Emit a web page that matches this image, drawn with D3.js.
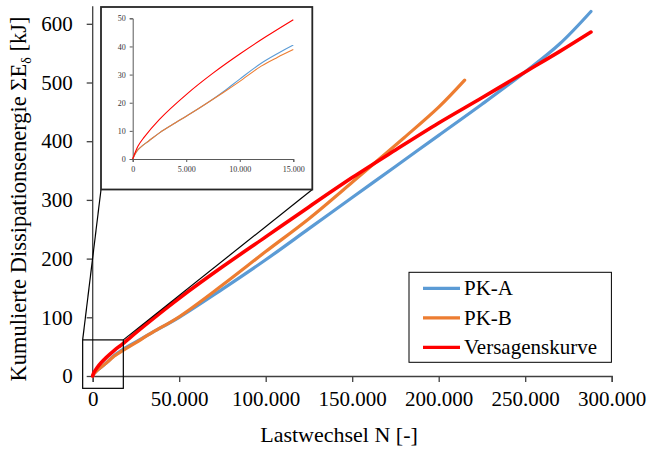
<!DOCTYPE html>
<html>
<head>
<meta charset="utf-8">
<script src="https://cdn.jsdelivr.net/npm/d3@7/dist/d3.min.js"></script>
<style>
  html, body { margin: 0; padding: 0; background: #fff; }
  svg, svg text { font-family: "Liberation Serif", "Times New Roman", serif !important; }
</style>
</head>
<body>
<svg id="chart" width="651" height="453"></svg>
<script>
// ---------- DATA ----------
const pkA_N = [0, 250, 500, 1000, 1500, 2500, 4000, 5000, 6920, 8500, 10000, 12000, 13500, 15000, 17500, 25000, 35000, 50000, 75000, 100000, 125000, 150000, 175000, 200000, 225000, 250000, 270000, 288000];
const pkA_E = [0, 2.0, 3.3, 5.0, 6.4, 9.3, 12.9, 15.2, 19.8, 24.0, 28.4, 34.0, 37.4, 40.5, 45.5, 58, 75, 100, 148, 198, 251, 304, 357, 410, 463, 518, 566, 621];

const pkB_N = [0, 250, 500, 1000, 1500, 2500, 4000, 5000, 6920, 8500, 10000, 12000, 13500, 15000, 17500, 25000, 35000, 50000, 75000, 100000, 125000, 150000, 165000, 180000, 200000, 215000];
const pkB_E = [0, 2.0, 3.3, 5.0, 6.4, 9.3, 12.9, 15.2, 19.8, 23.7, 27.6, 33.0, 36.1, 38.9, 43.5, 57, 75, 101, 155, 212, 268, 330, 368, 406, 458, 504];

const vk_N = [0, 500, 1000, 2500, 5000, 7500, 10000, 12500, 15000, 17500, 25000, 35000, 50000, 75000, 100000, 125000, 150000, 175000, 200000, 225000, 250000, 270000, 288000];
const vk_E = [0, 4.6, 7.4, 14.1, 22.9, 30.5, 37.3, 43.6, 49.5, 55.1, 74, 98, 132.5, 186, 237, 288, 338, 385, 431, 474, 518, 553, 586];

const seriesNames = ["PK-A", "PK-B", "Versagenskurve"];
const seriesColors = ["#5B9BD5", "#ED7D31", "#FF0000"];

const xTicks = [0, 50000, 100000, 150000, 200000, 250000, 300000];
const yTicks = [0, 100, 200, 300, 400, 500, 600];
const insetXTicks = [0, 5000, 10000, 15000];
const insetYTicks = [0, 10, 20, 30, 40, 50];

// zoom window shown by the inset (data units of main chart)
const zoomBoxN = [-5800, 17700];
const zoomBoxE = [-21, 61.5];

const xTitle = "Lastwechsel N [-]";

// ---------- SETUP ----------
const svg = d3.select("#chart");
const FONT = '"Liberation Serif", "Times New Roman", serif';
const fmt = d => d3.format(",")(d).replace(/,/g, ".");

const x = d3.scaleLinear().domain([0, 300000]).range([92.7, 611.7]);
const y = d3.scaleLinear().domain([0, 630]).range([376, 6.2]);

const series = [
  {name: seriesNames[0], color: seriesColors[0], N: pkA_N, E: pkA_E},
  {name: seriesNames[1], color: seriesColors[1], N: pkB_N, E: pkB_E},
  {name: seriesNames[2], color: seriesColors[2], N: vk_N, E: vk_E}
];
series.forEach(s => s.pts = s.N.map((n, i) => [n, s.E[i]]));

const axisColor = "#404040";

function styleAxis(g, color, width, size, textColor) {
  g.attr("font-family", null).style("font-family", FONT);
  g.select(".domain").attr("stroke", color).attr("stroke-width", width);
  g.selectAll(".tick line").attr("stroke", color).attr("stroke-width", width);
  g.selectAll(".tick text").attr("fill", textColor).attr("font-size", size).style("font-family", FONT);
}

// ---------- MAIN AXES ----------
const xAxis = svg.append("g").attr("transform", `translate(0,${y(0)})`)
  .call(d3.axisBottom(x).tickValues(xTicks).tickFormat(fmt).tickSizeOuter(0).tickSize(6).tickPadding(9));
const yAxis = svg.append("g").attr("transform", `translate(${x(0)},0)`)
  .call(d3.axisLeft(y).tickValues(yTicks).tickSizeOuter(0).tickSize(6).tickPadding(14));
styleAxis(xAxis, axisColor, 1.3, 21, "#000");
styleAxis(yAxis, axisColor, 1.3, 21, "#000");
yAxis.select(".domain").attr("d", `M0,${y(0)}V${y.range()[1]}`);

// titles
svg.append("text").attr("x", 339).attr("y", 442).attr("text-anchor", "middle")
  .attr("font-size", 22).attr("fill", "#000").style("font-family", FONT).text(xTitle);

const yt = svg.append("text").attr("transform", "translate(26,199) rotate(-90)")
  .attr("text-anchor", "middle").attr("font-size", 22.5).attr("fill", "#000").style("font-family", FONT);
yt.append("tspan").text("Kumulierte Dissipationsenergie ΣE");
yt.append("tspan").attr("font-size", 14).attr("dy", 5).text("δ");
yt.append("tspan").attr("dy", -5).text(" [kJ]");

// ---------- MAIN LINES ----------
const line = d3.line().x(d => x(d[0])).y(d => y(d[1])).curve(d3.curveCatmullRom.alpha(0.5));
series.forEach((s, i) => {
  svg.append("path").datum(s.pts).attr("fill", "none").attr("stroke", s.color)
    .attr("stroke-width", i === 2 ? 3.6 : 3.2).attr("stroke-linecap", "round")
    .attr("stroke-linejoin", "round").attr("d", line);
});

// ---------- ZOOM BOX + CONNECTORS ----------
const bx0 = x(zoomBoxN[0]), bx1 = x(zoomBoxN[1]);
const by0 = y(zoomBoxE[1]), by1 = y(zoomBoxE[0]);
svg.append("rect").attr("x", bx0).attr("y", by0).attr("width", bx1 - bx0).attr("height", by1 - by0)
  .attr("fill", "none").attr("stroke", "#000").attr("stroke-width", 1.2);

const inset = {x0: 101, y0: 7, x1: 312.3, y1: 189.5};
svg.append("line").attr("x1", bx0).attr("y1", by0).attr("x2", inset.x0).attr("y2", inset.y1)
  .attr("stroke", "#000").attr("stroke-width", 1.2);
svg.append("line").attr("x1", bx1).attr("y1", by0).attr("x2", inset.x1).attr("y2", inset.y1)
  .attr("stroke", "#000").attr("stroke-width", 1.2);

// ---------- INSET ----------
svg.append("rect").attr("x", inset.x0).attr("y", inset.y0)
  .attr("width", inset.x1 - inset.x0).attr("height", inset.y1 - inset.y0)
  .attr("fill", "#fff").attr("stroke", "#262626").attr("stroke-width", 1.8);

const ix = d3.scaleLinear().domain([0, 15000]).range([132.7, 293.3]);
const iy = d3.scaleLinear().domain([0, 50]).range([159, 18.3]);

const ixAxis = svg.append("g").attr("transform", `translate(0,${iy(0)})`)
  .call(d3.axisBottom(ix).tickValues(insetXTicks).tickFormat(fmt).tickSizeOuter(0).tickSize(3).tickPadding(4));
const iyAxis = svg.append("g").attr("transform", `translate(${ix(0)},0)`)
  .call(d3.axisLeft(iy).tickValues(insetYTicks).tickSizeOuter(0).tickSize(3).tickPadding(4));
styleAxis(ixAxis, "#595959", 1, 8, "#333");
styleAxis(iyAxis, "#595959", 1, 8, "#333");

const iline = d3.line().x(d => ix(d[0])).y(d => iy(d[1])).curve(d3.curveCatmullRom.alpha(0.5));
series.forEach(s => {
  const pts = s.pts.filter(d => d[0] <= 15000);
  svg.append("path").datum(pts).attr("fill", "none").attr("stroke", s.color)
    .attr("stroke-width", 1.1).attr("d", iline);
});

// ---------- LEGEND ----------
const lg = svg.append("g");
lg.append("rect").attr("x", 409).attr("y", 272.3).attr("width", 202.4).attr("height", 90)
  .attr("fill", "#fff").attr("stroke", "#000").attr("stroke-width", 1);
series.forEach((s, i) => {
  const yy = 288.3 + i * 29.5;
  lg.append("line").attr("x1", 423).attr("x2", 460).attr("y1", yy).attr("y2", yy)
    .attr("stroke", s.color).attr("stroke-width", 3.2);
  lg.append("text").attr("x", 464).attr("y", yy + 7).attr("font-size", 21)
    .attr("fill", "#000").style("font-family", FONT).text(s.name);
});
</script>
</body>
</html>
